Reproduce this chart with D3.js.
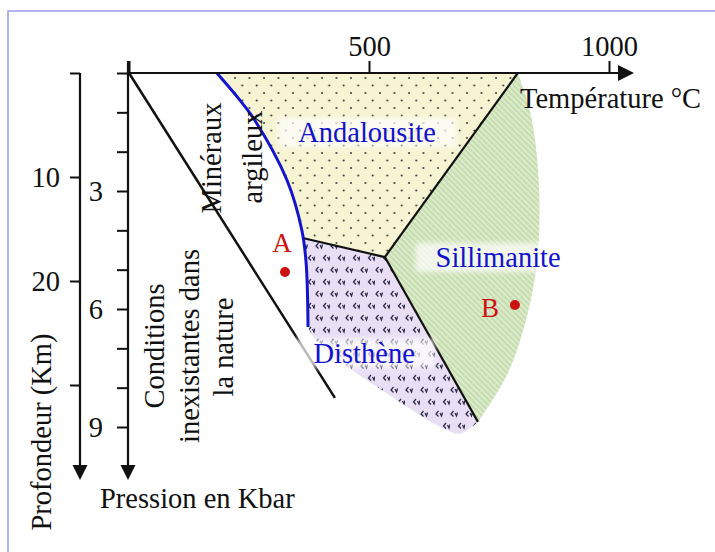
<!DOCTYPE html>
<html><head><meta charset="utf-8">
<script src="https://cdn.jsdelivr.net/npm/d3@7"></script>
<style>
html,body{margin:0;padding:0;background:#fff;}
svg{display:block;}
text{font-family:"Liberation Serif","Times New Roman",serif;}
</style></head><body>
<svg id="chart" width="715" height="552"></svg>
<script>
// ---------- data (temperature °C, pressure kbar, depth km) ----------
const tempTicks = [0, 500, 1000];
const tempTickLabels = ["", "500", "1000"];
const pressureTicks = [0, 1, 2, 3, 4, 5, 6, 7, 8, 9];
const pressureLabelled = [3, 6, 9];
const depthTicks = [0, 10, 20, 30];
const depthLabelled = [10, 20];

const argileuxCurve = [[183, 0], [231, 0.69], [262, 1.20], [329, 2.72], [360, 3.99], [369, 4.83], [373, 6.46]];
const envelopeRight = [[810, 0], [834, 0.90], [849, 2.00], [855, 3.20], [853, 4.40], [840, 5.60], [815, 6.80], [780, 7.85], [727, 8.87]];
const envelopeBottom = [[727, 8.87], [700, 9.12], [670, 9.12], [606, 8.70], [544, 8.20], [488, 7.75], [429, 7.22], [390, 6.80], [373, 6.46]];
const triplePoint = [533, 4.68];
const andDisEnd = [364, 4.20];
const andSilEnd = [810, 0];
const disSilEnd = [727, 8.87];
const nonexistentLine = [[0, 0], [429, 8.26]];
const sampleNames = ["A", "B"];
const sampleT = [325, 804];
const sampleP = [5.06, 5.90];
const mineralNames = ["Andalousite", "Sillimanite", "Disthène"];
const mineralT = [496, 769, 490];
const mineralP = [1.75, 4.93, 7.37];

// ---------- scales ----------
const svg = d3.select("#chart");
const xT = d3.scaleLinear().domain([0, 1000]).range([129, 609]);
const yP = d3.scaleLinear().domain([0, 9]).range([73, 427]);
const yD = d3.scaleLinear().domain([0, 30]).range([73, 385]);
const FS = 28.5;

// frame
svg.append("path").attr("d", "M8,552 V11 H715").attr("fill", "none").attr("stroke", "#9a9af0").attr("stroke-width", 1.5);

// ---------- patterns ----------
const defs = svg.append("defs");
const pA = defs.append("pattern").attr("id", "pAnd").attr("patternUnits", "userSpaceOnUse").attr("width", 14.5).attr("height", 15);
pA.append("rect").attr("width", 14.5).attr("height", 15).attr("fill", "#f6f4d3");
pA.append("circle").attr("cx", 3).attr("cy", 3).attr("r", 0.95).attr("fill", "#2a2a2a");
pA.append("circle").attr("cx", 10.25).attr("cy", 10.5).attr("r", 0.95).attr("fill", "#2a2a2a");

const pD = defs.append("pattern").attr("id", "pDis").attr("patternUnits", "userSpaceOnUse").attr("width", 15).attr("height", 24);
pD.append("rect").attr("width", 15).attr("height", 24).attr("fill", "#e8dff5");
[[4, 6], [11.5, 18]].forEach(([cx, cy]) => {
  pD.append("path").attr("d", `M${cx - 0.5},${cy - 3} L${cx - 3},${cy} L${cx - 0.5},${cy + 2.5} M${cx + 1},${cy - 1} L${cx + 2.5},${cy + 2} L${cx + 3.5},${cy - 1.5}`)
    .attr("fill", "none").attr("stroke", "#2e2a46").attr("stroke-width", 1.25);
});

const pS = defs.append("pattern").attr("id", "pSil").attr("patternUnits", "userSpaceOnUse").attr("width", 4).attr("height", 4)
  .attr("patternTransform", "rotate(-45)");
pS.append("rect").attr("width", 4).attr("height", 4).attr("fill", "#c6ddae");
pS.append("rect").attr("width", 1.5).attr("height", 4).attr("fill", "#e3efd6");

const blur = defs.append("filter").attr("id", "soft").attr("x", "-20%").attr("y", "-40%").attr("width", "140%").attr("height", "180%");
blur.append("feGaussianBlur").attr("stdDeviation", 2.5);

// ---------- field clip ----------
const lineC = d3.line().x(d => xT(d[0])).y(d => yP(d[1])).curve(d3.curveCatmullRom.alpha(0.5));
const lineN = d3.line().x(d => xT(d[0])).y(d => yP(d[1])).curve(d3.curveNatural);
const lineS = d3.line().x(d => xT(d[0])).y(d => yP(d[1]));
const fieldPath = lineN(envelopeRight) + lineN(envelopeBottom).replace(/^M/, "L") +
  lineC(argileuxCurve.slice().reverse()).replace(/^M/, "L") + "Z";
defs.append("clipPath").attr("id", "field").append("path").attr("d", fieldPath);

// extended boundary points for region polygons
const ext = (a, b, t) => [a[0] + (b[0] - a[0]) * t, a[1] + (b[1] - a[1]) * t];
const andDisFar = ext(triplePoint, andDisEnd, 2.5);
const disSilFar = ext(triplePoint, disSilEnd, 1.5);

const regions = svg.append("g").attr("clip-path", "url(#field)");
regions.append("path").attr("d", lineS([[100, -1], [andSilEnd[0], -1], andSilEnd, triplePoint, andDisEnd, andDisFar, [100, andDisFar[1]]]) + "Z").attr("fill", "url(#pAnd)");
regions.append("path").attr("d", lineS([[andSilEnd[0], -1], [1000, -1], [1000, 11], disSilFar, triplePoint, andSilEnd]) + "Z").attr("fill", "url(#pSil)");
regions.append("path").attr("d", lineS([andDisFar, andDisEnd, triplePoint, disSilFar, [disSilFar[0], 11], [100, 11], [100, andDisFar[1]]]) + "Z").attr("fill", "url(#pDis)");

// boundaries
[[andSilEnd, triplePoint], [andDisEnd, triplePoint], [triplePoint, disSilEnd]].forEach(seg => {
  svg.append("path").attr("d", lineS(seg)).attr("stroke", "#111").attr("stroke-width", 2.2).attr("fill", "none");
});
// nonexistent-conditions line
svg.append("path").attr("d", lineS(nonexistentLine)).attr("stroke", "#111").attr("stroke-width", 2.5).attr("fill", "none");
// clay minerals limit
svg.append("path").attr("d", lineC(argileuxCurve)).attr("stroke", "#1414cc").attr("stroke-width", 3).attr("fill", "none");

// ---------- axes ----------
const axT = d3.axisTop(xT).tickValues(tempTicks).tickFormat((d, i) => tempTickLabels[i]).tickSize(12).tickPadding(5).tickSizeOuter(0);
const gT = svg.append("g").attr("transform", `translate(0,${yP(0)})`).call(axT);
const axP = d3.axisLeft(yP).tickValues(pressureTicks).tickFormat(d => pressureLabelled.includes(d) ? d : "").tickSize(11).tickPadding(14).tickSizeOuter(0);
const gP = svg.append("g").attr("transform", `translate(${xT(0) - 1},0)`).call(axP);
const axD = d3.axisLeft(yD).tickValues(depthTicks).tickFormat(d => depthLabelled.includes(d) ? d : "").tickSize(10).tickPadding(10).tickSizeOuter(0);
const gD = svg.append("g").attr("transform", "translate(80,0)").call(axD);
[gT, gP, gD].forEach(g => {
  g.select(".domain").remove();
  g.attr("font-family", null).attr("font-size", null);
  g.selectAll(".tick line").attr("stroke", "#111").attr("stroke-width", 2);
  g.selectAll(".tick text").attr("fill", "#111").style("font-size", FS + "px");
});
// axis lines with arrows
const ax = svg.append("g").attr("stroke", "#111").attr("stroke-width", 2.2).attr("fill", "none");
ax.append("line").attr("x1", xT(0) - 2).attr("y1", yP(0)).attr("x2", 621).attr("y2", yP(0));
ax.append("line").attr("x1", xT(0) - 1).attr("y1", 61).attr("x2", xT(0) - 1).attr("y2", 467);
ax.append("line").attr("x1", 80).attr("y1", yD(0)).attr("x2", 80).attr("y2", 467);
const arr = svg.append("g").attr("fill", "#111");
arr.append("path").attr("d", `M618,65 L634,${yP(0)} L618,81 Z`);
arr.append("path").attr("d", "M120.5,465 L135.5,465 L128,480 Z");
arr.append("path").attr("d", "M72.5,465 L87.5,465 L80,480 Z");

// ---------- label backgrounds + labels ----------
const lab = svg.append("g");
mineralNames.forEach((n, i) => {
  const bg = lab.append("rect");
  const t = lab.append("text").attr("x", xT(mineralT[i])).attr("y", yP(mineralP[i])).attr("text-anchor", "middle")
    .style("font-size", FS + "px").attr("fill", "#1212cc").text(n);
  const b = t.node().getBBox();
  bg.attr("x", b.x - 20).attr("y", b.y + 1).attr("width", b.width + 40).attr("height", b.height - 2)
    .attr("fill", "#fff").attr("opacity", 0.7).attr("filter", "url(#soft)");
});

// sample points
sampleNames.forEach((n, i) => {
  svg.append("circle").attr("cx", xT(sampleT[i])).attr("cy", yP(sampleP[i])).attr("r", 5).attr("fill", "#cc1111");
});
svg.append("text").attr("x", 282).attr("y", 252).attr("text-anchor", "middle").style("font-size", "27px").attr("fill", "#cc1111").text(sampleNames[0]);
svg.append("text").attr("x", 490).attr("y", 317).attr("text-anchor", "middle").style("font-size", "27px").attr("fill", "#cc1111").text(sampleNames[1]);

// text annotations
const txt = (x, y, s, rot) => svg.append("text").attr("transform", `translate(${x},${y})` + (rot ? " rotate(-90)" : ""))
  .attr("text-anchor", rot ? "middle" : "start").style("font-size", FS + "px").attr("fill", "#111").text(s);
txt(520, 108, "Température °C", false);
txt(100, 508, "Pression en Kbar", false);
txt(51, 432, "Profondeur (Km)", true);
txt(221, 158, "Minéraux", true);
txt(262, 157, "argileux", true);
txt(164, 346, "Conditions", true);
txt(199, 346, "inexistantes dans", true);
txt(233, 347, "la nature", true);
</script>
</body></html>
